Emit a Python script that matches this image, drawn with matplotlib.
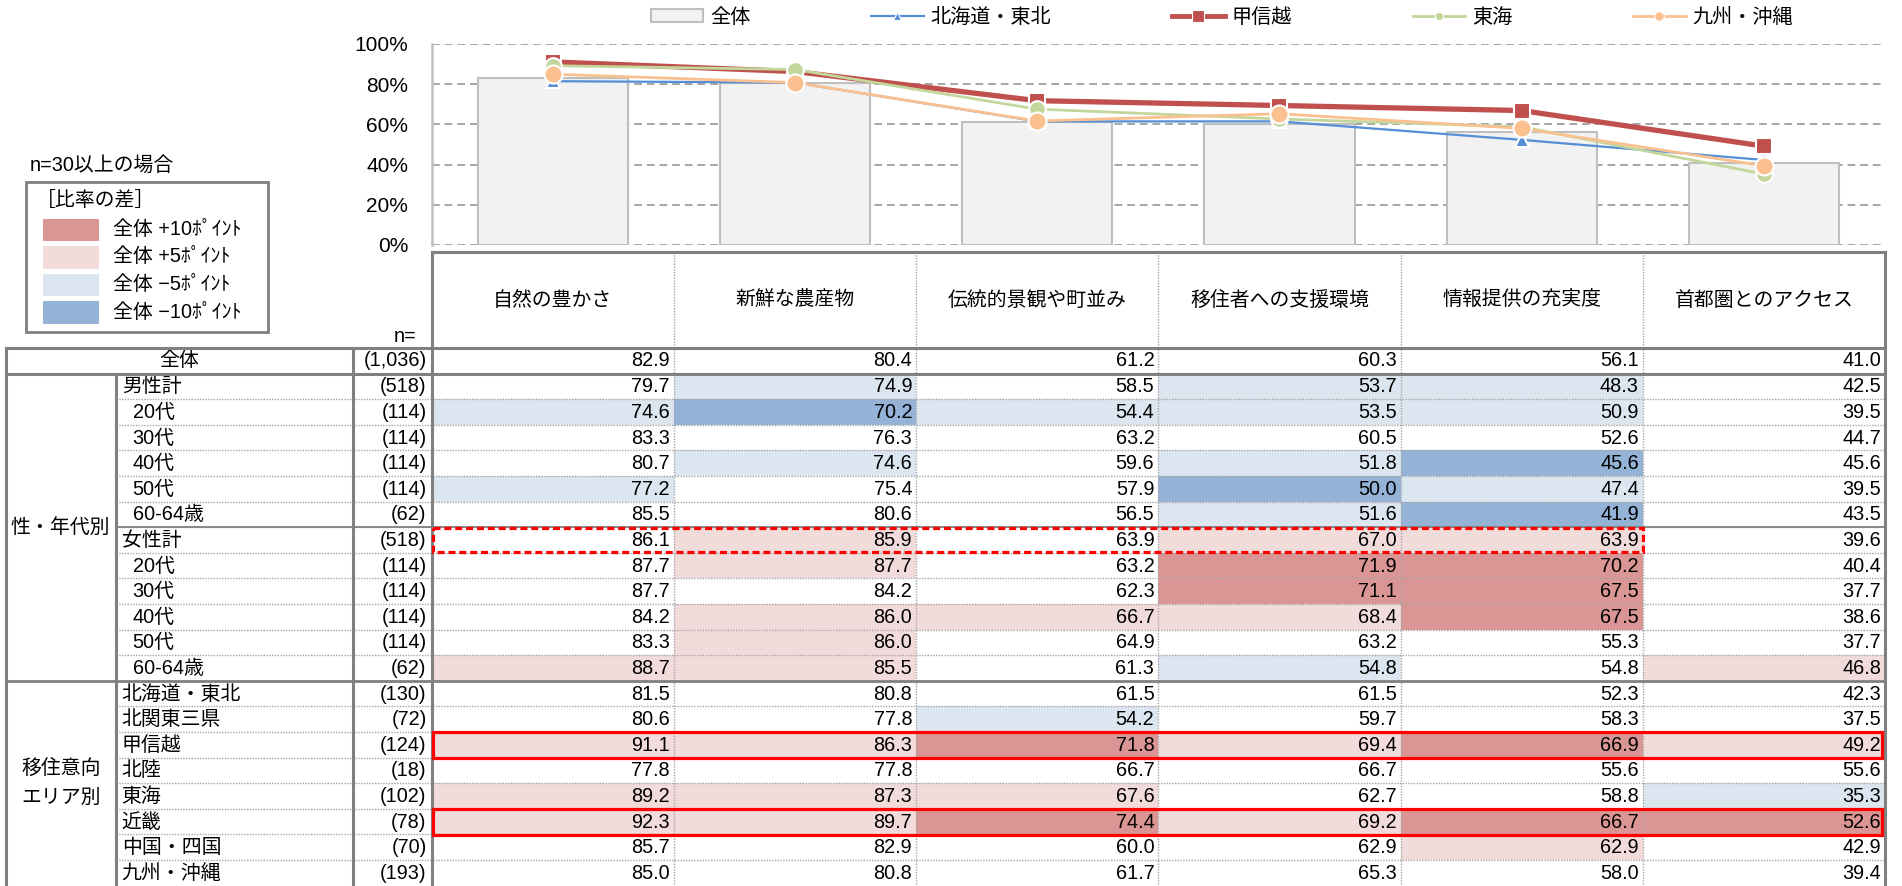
import matplotlib
matplotlib.use('Agg')
import matplotlib.pyplot as plt
from matplotlib.patches import Rectangle, Patch
from matplotlib.lines import Line2D

plt.rcParams['font.family'] = ['Liberation Sans', 'Noto Sans CJK JP']

# ---------------- data ----------------
categories = ['自然の豊かさ', '新鮮な農産物', '伝統的景観や町並み',
              '移住者への支援環境', '情報提供の充実度', '首都圏とのアクセス']
overall_label = '全体'
overall_n = 1036
overall = [82.9, 80.4, 61.2, 60.3, 56.1, 41.0]

group_labels = ['性・年代別', '移住意向\nエリア別']
group_sizes = [12, 8]

row_labels = ['男性計', '20代', '30代', '40代', '50代', '60-64歳',
              '女性計', '20代', '30代', '40代', '50代', '60-64歳',
              '北海道・東北', '北関東三県', '甲信越', '北陸', '東海', '近畿',
              '中国・四国', '九州・沖縄']
row_indent = [False, True, True, True, True, True,
              False, True, True, True, True, True,
              False, False, False, False, False, False, False, False]
row_n = [518, 114, 114, 114, 114, 62, 518, 114, 114, 114, 114, 62,
         130, 72, 124, 18, 102, 78, 70, 193]
values = [
    [79.7, 74.9, 58.5, 53.7, 48.3, 42.5],
    [74.6, 70.2, 54.4, 53.5, 50.9, 39.5],
    [83.3, 76.3, 63.2, 60.5, 52.6, 44.7],
    [80.7, 74.6, 59.6, 51.8, 45.6, 45.6],
    [77.2, 75.4, 57.9, 50.0, 47.4, 39.5],
    [85.5, 80.6, 56.5, 51.6, 41.9, 43.5],
    [86.1, 85.9, 63.9, 67.0, 63.9, 39.6],
    [87.7, 87.7, 63.2, 71.9, 70.2, 40.4],
    [87.7, 84.2, 62.3, 71.1, 67.5, 37.7],
    [84.2, 86.0, 66.7, 68.4, 67.5, 38.6],
    [83.3, 86.0, 64.9, 63.2, 55.3, 37.7],
    [88.7, 85.5, 61.3, 54.8, 54.8, 46.8],
    [81.5, 80.8, 61.5, 61.5, 52.3, 42.3],
    [80.6, 77.8, 54.2, 59.7, 58.3, 37.5],
    [91.1, 86.3, 71.8, 69.4, 66.9, 49.2],
    [77.8, 77.8, 66.7, 66.7, 55.6, 55.6],
    [89.2, 87.3, 67.6, 62.7, 58.8, 35.3],
    [92.3, 89.7, 74.4, 69.2, 66.7, 52.6],
    [85.7, 82.9, 60.0, 62.9, 62.9, 42.9],
    [85.0, 80.8, 61.7, 65.3, 58.0, 39.4],
]
series_names = ['北海道・東北', '甲信越', '東海', '九州・沖縄']
dashed_rows = ['女性計']          # highlighted with dashed box (first 5 cols)
boxed_rows = ['甲信越', '近畿']   # highlighted with solid box

diff_title = '［比率の差］'
diff_legend = ['全体 +10ﾎﾟｲﾝﾄ', '全体 +5ﾎﾟｲﾝﾄ', '全体 −5ﾎﾟｲﾝﾄ', '全体 −10ﾎﾟｲﾝﾄ']

# ---------------- styles ----------------
C_P10, C_P5, C_M5, C_M10 = '#DA9694', '#F2DCDB', '#DCE6F1', '#95B3D7'
series_styles = [
    dict(color='#558ED5', lw=1.6, marker='^', ms=10),
    dict(color='#C0504D', lw=3.8, marker='s', ms=12),
    dict(color='#C3D69B', lw=2.0, marker='o', ms=12),
    dict(color='#FAC090', lw=2.0, marker='o', ms=13),
]
legend_ms = [6, 8, 6, 7]

W, H = 1902, 886
fig = plt.figure(figsize=(W / 100, H / 100), dpi=100)

X_LEFT, X_GRP, X_N, X_DATA, X_RIGHT = 5.7, 115.7, 352.7, 431.7, 1885.0
NCOL = len(categories)
COL_W = (X_RIGHT - X_DATA) / NCOL
Y_HEAD_TOP, Y_HEAD_BOT, Y_ALL_BOT = 252.0, 348.0, 373.5
ROW_H = 25.6
FS = 14.3
GRID_C = '#808080'
DOT_C = '#A6A6A6'

# ---------------- table ----------------
ax = fig.add_axes([0, 0, 1, 1])
ax.set_xlim(0, W)
ax.set_ylim(H, 0)
ax.axis('off')


def col_x(j):
    return X_DATA + j * COL_W


def cell_color(v, base, n):
    if n < 30:
        return None
    d = round(v - base, 1)
    if d >= 10:
        return C_P10
    if d > 5:
        return C_P5
    if d <= -10:
        return C_M10
    if d < -5:
        return C_M5
    return None


# header
for j, c in enumerate(categories):
    ax.text(col_x(j) + COL_W / 2, 300, c, ha='center', va='center', fontsize=FS)
ax.text(X_N + 64, 337, 'n=', ha='right', va='center', fontsize=FS)

# overall row
ymid = (Y_HEAD_BOT + Y_ALL_BOT) / 2
ax.text((X_LEFT + X_N) / 2, ymid, overall_label, ha='center', va='center', fontsize=FS)
ax.text(X_DATA - 5, ymid, f'({overall_n:,})', ha='right', va='center', fontsize=FS)
for j, v in enumerate(overall):
    ax.text(col_x(j + 1) - 4, ymid, f'{v:.1f}', ha='right', va='center', fontsize=FS)

# body rows
for i, lab in enumerate(row_labels):
    y0 = Y_ALL_BOT + i * ROW_H
    ym = y0 + ROW_H / 2 + 0.5
    for j, v in enumerate(values[i]):
        fc = cell_color(v, overall[j], row_n[i])
        if fc:
            ax.add_patch(Rectangle((col_x(j), y0), COL_W, ROW_H, fc=fc, ec='none', zorder=1))
        ax.text(col_x(j + 1) - 4, ym, f'{v:.1f}', ha='right', va='center', fontsize=FS, zorder=3)
    ax.text(X_GRP + (17 if row_indent[i] else 6), ym, lab, ha='left', va='center', fontsize=FS)
    ax.text(X_DATA - 5, ym, f'({row_n[i]:,})', ha='right', va='center', fontsize=FS)
    if i > 0:
        ax.plot([X_GRP, X_RIGHT], [y0, y0], color=DOT_C, lw=1.0, ls=(0, (1, 1)), zorder=2)

# group labels
start = 0
for g, size in zip(group_labels, group_sizes):
    ya = Y_ALL_BOT + start * ROW_H
    yb = ya + size * ROW_H
    ax.text((X_LEFT + X_GRP) / 2, (ya + yb) / 2, g, ha='center', va='center',
            fontsize=FS, linespacing=1.6)
    if start > 0:
        ax.plot([X_LEFT, X_RIGHT], [ya, ya], color=GRID_C, lw=2, zorder=4)
    start += size

# male/female boundary
y_mf = Y_ALL_BOT + row_labels.index('女性計') * ROW_H
ax.plot([X_GRP, X_RIGHT], [y_mf, y_mf], color=GRID_C, lw=1.3, zorder=4)

# column separators (dotted)
for j in range(1, NCOL):
    ax.plot([col_x(j), col_x(j)], [Y_HEAD_TOP, H], color=DOT_C, lw=1.0, ls=(0, (1, 1)), zorder=2)

# solid frame lines
ax.plot([X_DATA, X_RIGHT], [Y_HEAD_TOP, Y_HEAD_TOP], color=GRID_C, lw=2.2, zorder=4)
ax.plot([X_LEFT, X_RIGHT], [Y_HEAD_BOT, Y_HEAD_BOT], color=GRID_C, lw=2.2, zorder=4)
ax.plot([X_LEFT, X_RIGHT], [Y_ALL_BOT, Y_ALL_BOT], color=GRID_C, lw=2.2, zorder=4)
for x, ytop in [(X_LEFT, Y_HEAD_BOT), (X_GRP, Y_ALL_BOT), (X_N, Y_HEAD_BOT),
                (X_DATA, Y_HEAD_TOP), (X_RIGHT, Y_HEAD_TOP)]:
    ax.plot([x, x], [ytop, H], color=GRID_C, lw=2.2, zorder=4)

# highlight boxes
for name in dashed_rows:
    y0 = Y_ALL_BOT + row_labels.index(name) * ROW_H
    ax.add_patch(Rectangle((X_DATA + 1, y0 + 1), col_x(5) - X_DATA - 1, ROW_H - 1.5,
                           fill=False, ec='#FF0000', lw=2.3, ls=(0, (2.2, 1.2)), zorder=6))
for name in boxed_rows:
    y0 = Y_ALL_BOT + row_labels.index(name) * ROW_H
    ax.add_patch(Rectangle((X_DATA + 1, y0 + 0.5), X_RIGHT - X_DATA - 4, ROW_H,
                           fill=False, ec='#FF0000', lw=2.3, zorder=6))

# left legend box
ax.text(30, 165, 'n=30以上の場合', ha='left', va='center', fontsize=FS)
ax.add_patch(Rectangle((25.7, 181.7), 242.6, 150, fill=False, ec='#7F7F7F', lw=2, zorder=5))
ax.text(36, 200, diff_title, ha='left', va='center', fontsize=FS)
for k, (lab, c) in enumerate(zip(diff_legend, [C_P10, C_P5, C_M5, C_M10])):
    yc = 229.5 + k * 27.5
    ax.add_patch(Rectangle((42.7, yc - 11), 56.3, 22.5, fc=c, ec='none'))
    ax.text(112.7, yc, lab, ha='left', va='center', fontsize=FS)

# ---------------- chart ----------------
Y_TOP, Y_BOT = 44.0, 245.0
cax = fig.add_axes([X_DATA / W, 1 - Y_BOT / H, (X_RIGHT - X_DATA) / W, (Y_BOT - Y_TOP) / H])
cax.set_facecolor('none')
xs = list(range(NCOL))
cax.bar(xs, overall, width=0.62, color='#F2F2F2', edgecolor='#BFBFBF', lw=1.5,
        zorder=2, label=overall_label)
for name, st in zip(series_names, series_styles):
    vals = values[row_labels.index(name)]
    cax.plot(xs, vals, color=st['color'], lw=st['lw'], marker=st['marker'], ms=st['ms'],
             mfc=st['color'], mec='white', mew=1.5, zorder=3, clip_on=False, label=name)
cax.set_xlim(-0.5, NCOL - 0.5)
cax.set_ylim(0, 100)
cax.set_yticks(range(0, 101, 20))
cax.set_yticklabels([f'{t}%' for t in range(0, 101, 20)], fontsize=15)
cax.tick_params(axis='y', length=0, pad=17)
cax.set_xticks([])
cax.yaxis.grid(True, color='#A6A6A6', lw=1.4, ls=(0, (4, 2.5)), zorder=0)
cax.set_axisbelow(True)
for s in ['top', 'right', 'bottom']:
    cax.spines[s].set_visible(False)
cax.spines['left'].set_color('#BFBFBF')
cax.spines['left'].set_linewidth(1.8)

# top legend
handles = [Patch(fc='#F2F2F2', ec='#BFBFBF', lw=1.5)]
for st, ms in zip(series_styles, legend_ms):
    handles.append(Line2D([], [], color=st['color'], lw=min(st['lw'], 3.5), marker=st['marker'],
                          ms=ms, mfc=st['color'], mec='white', mew=0.8))
fig.legend(handles, [overall_label] + series_names, loc='center',
           bbox_to_anchor=(1222 / W, 1 - 17 / H), ncol=5, frameon=False,
           fontsize=14.5, handlelength=2.6, handleheight=0.6, handletextpad=0.35,
           columnspacing=6.0)

fig.savefig('out.png', dpi=100)
